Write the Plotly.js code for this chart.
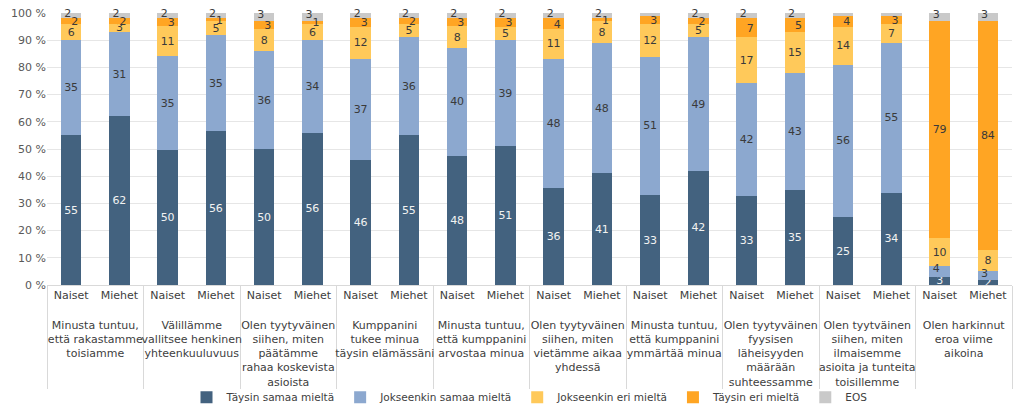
<!DOCTYPE html>
<html>
<head>
<meta charset="utf-8">
<script src="https://cdn.plot.ly/plotly-3.0.1.min.js"></script>
<style>html,body{margin:0;padding:0;background:#fff;}#chart{width:1024px;height:412px;}</style>
</head>
<body>
<div id="chart"></div>
<script>
const groups = [
  "Minusta tuntuu,<br>että rakastamme<br>toisiamme",
  "Välillämme<br>vallitsee henkinen<br>yhteenkuuluvuus",
  "Olen tyytyväinen<br>siihen, miten<br>päätämme<br>rahaa koskevista<br>asioista",
  "Kumppanini<br>tukee minua<br>täysin elämässäni",
  "Minusta tuntuu,<br>että kumppanini<br>arvostaa minua",
  "Olen tyytyväinen<br>siihen, miten<br>vietämme aikaa<br>yhdessä",
  "Minusta tuntuu,<br>että kumppanini<br>ymmärtää minua",
  "Olen tyytyväinen<br>fyysisen<br>läheisyyden<br>määrään<br>suhteessamme",
  "Olen tyytväinen<br>siihen, miten<br>ilmaisemme<br>asioita ja tunteita<br>toisillemme",
  "Olen harkinnut<br>eroa viime<br>aikoina"
];
const genders = ["Naiset", "Miehet"];
const seriesNames = ["Täysin samaa mieltä", "Jokseenkin samaa mieltä", "Jokseenkin eri mieltä", "Täysin eri mieltä", "EOS"];

// values per bar: order = group1 Naiset, group1 Miehet, group2 Naiset, ...
const taysinSamaa     = [55, 62, 50, 56, 50, 56, 46, 55, 48, 51, 36, 41, 33, 42, 33, 35, 25, 34, 3, 2];
const jokseenkinSamaa = [35, 31, 35, 35, 36, 34, 37, 36, 40, 39, 48, 48, 51, 49, 42, 43, 56, 55, 4, 3];
const jokseenkinEri   = [6, 3, 11, 5, 8, 6, 12, 5, 8, 5, 11, 8, 12, 5, 17, 15, 14, 7, 10, 8];
const taysinEri       = [2, 2, 3, 1, 3, 1, 3, 2, 3, 3, 4, 1, 3, 2, 7, 5, 4, 3, 79, 84];
const eos             = [2, 2, 2, 2, 3, 3, 2, 2, 2, 2, 2, 2, 1, 2, 2, 2, 1, 1, 3, 3];
const yTicks = [0, 10, 20, 30, 40, 50, 60, 70, 80, 90, 100];

const colors = ["#43627f", "#8ca8cf", "#ffc95a", "#ffa523", "#c9c9c9"];
const textColors = ["#f2f2f2", "#3a3a3a", "#3a3a3a", "#3a3a3a", "#3a3a3a"];

const xOuter = [], xInner = [];
groups.forEach(g => genders.forEach(s => { xOuter.push("<br>" + g); xInner.push(s); }));
const x = [xOuter, xInner];

const allSeries = [taysinSamaa, jokseenkinSamaa, jokseenkinEri, taysinEri, eos];
const totals = taysinSamaa.map((_, i) => allSeries.reduce((a, s) => a + s[i], 0));
const pct = (v, i) => v / totals[i] * 100;

const FONT = "'DejaVu Sans', sans-serif";
const SMALL = 5;
const barText = (vals, k) => vals.map(v => {
  if (k === 4) return "";
  if (k === 3 && v < 10) return "";
  if (k === 1 && v < SMALL) return "";
  return String(v);
});
const traces = allSeries.map((vals, k) => ({
  type: "bar",
  name: seriesNames[k],
  x: x,
  y: vals,
  marker: {color: colors[k], line: {width: 0}},
  text: barText(vals, k),
  texttemplate: "%{text}",
  textposition: "inside",
  insidetextanchor: "middle",
  textangle: 0,
  constraintext: "none",
  insidetextfont: {family: FONT, size: 11, color: textColors[k]},
  hoverinfo: "skip"
}));

// small labels offset sideways so they do not collide
const eosY = eos.map((v, i) => 100 - pct(v, i) / 2 + 0.6);
const orY = taysinEri.map((v, i) => 100 - pct(eos[i], i) - pct(v, i) / 2 - 0.4);
const lbY = jokseenkinSamaa.map((v, i) => pct(taysinSamaa[i], i) + pct(v, i) / 2 + 0.6);
const textFont = {family: FONT, size: 11, color: "#3a3a3a"};
traces.push({
  type: "scatter", mode: "text", x: x, y: eosY,
  text: eos.map(String), textposition: "middle left", textfont: textFont,
  showlegend: false, hoverinfo: "skip", cliponaxis: false
});
traces.push({
  type: "scatter", mode: "text", x: x, y: orY,
  text: taysinEri.map(v => v < 10 ? String(v) : ""), textposition: "middle right", textfont: textFont,
  showlegend: false, hoverinfo: "skip", cliponaxis: false
});
traces.push({
  type: "scatter", mode: "text", x: x, y: lbY,
  text: jokseenkinSamaa.map(v => v < SMALL ? String(v) : ""), textposition: "middle left", textfont: textFont,
  showlegend: false, hoverinfo: "skip", cliponaxis: false
});

const layout = {
  width: 1024, height: 412,
  margin: {l: 47, r: 12, t: 13, b: 127},
  barmode: "stack",
  barnorm: "percent",
  bargap: 0.58,
  paper_bgcolor: "#ffffff",
  plot_bgcolor: "#ffffff",
  font: {family: FONT, size: 11, color: "#404040"},
  showlegend: true,
  legend: {
    orientation: "h", x: 0.5, xanchor: "center",
    yref: "container", y: 0.036, yanchor: "middle",
    bgcolor: "rgba(0,0,0,0)",
    font: {family: FONT, size: 10.5, color: "#404040"},
    traceorder: "normal", itemwidth: 30
  },
  xaxis: {
    type: "multicategory",
    automargin: false,
    range: [-0.5, 19.5],
    tickangle: 0,
    ticks: "outside", ticklen: 6, tickcolor: "rgba(0,0,0,0)",
    showline: true, linecolor: "#d9d9d9", linewidth: 1,
    showdividers: true, dividercolor: "#d9d9d9", dividerwidth: 1,
    tickfont: {family: FONT, size: 11, color: "#404040"},
    showgrid: false
  },
  yaxis: {
    automargin: false,
    range: [0, 100],
    tickmode: "array",
    tickvals: yTicks,
    ticktext: yTicks.map(v => v + " %"),
    showgrid: true, gridcolor: "#e6e6e6", gridwidth: 1,
    zeroline: false, showline: false,
    tickfont: {family: FONT, size: 11, color: "#595959"},
    ticklen: 0
  }
};

Plotly.newPlot("chart", traces, layout, {displayModeBar: false, staticPlot: true});
</script>
</body>
</html>
